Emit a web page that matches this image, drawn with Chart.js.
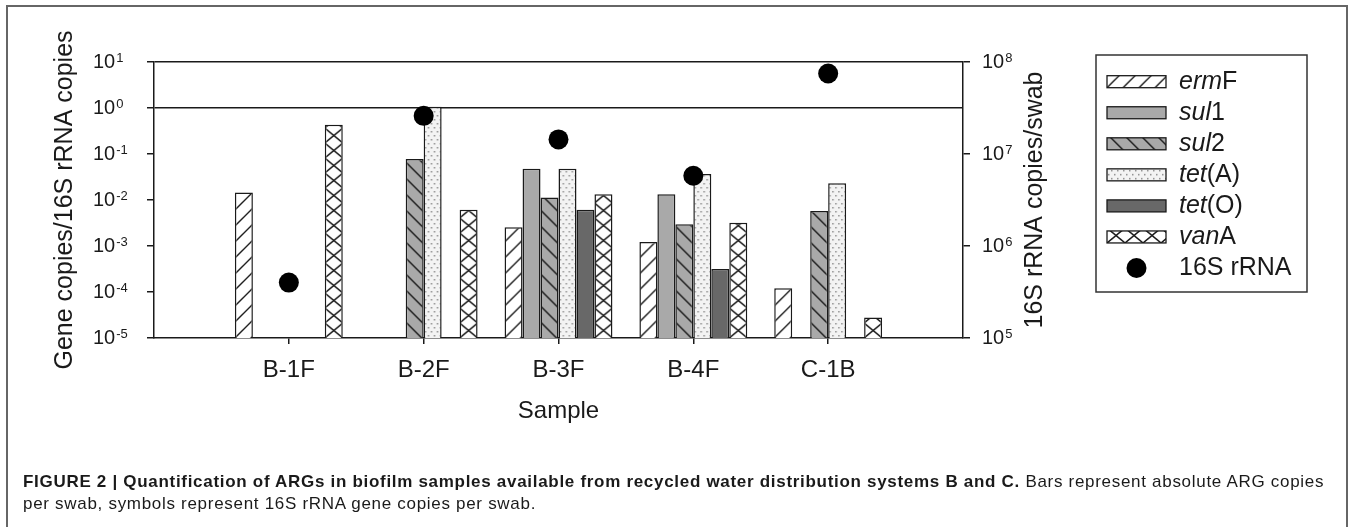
<!DOCTYPE html>
<html><head><meta charset="utf-8">
<script src="https://cdn.jsdelivr.net/npm/chart.js@4.4.1/dist/chart.umd.min.js"></script>
<style>
html,body{margin:0;padding:0;background:#fff;}
#wrap{position:relative;width:1349px;height:527px;overflow:hidden;background:#fff;}
#frame{position:absolute;left:6px;top:5px;width:1338px;height:600px;border:2px solid #666;}
#c{position:absolute;left:0;top:0;}
#cap{position:absolute;left:23px;top:471px;font-family:"Liberation Sans",Arial,sans-serif;font-size:17px;letter-spacing:0.7px;line-height:22px;color:#1a1a1a;white-space:nowrap;}
</style></head><body>
<div id="wrap"><div id="frame"></div><canvas id="c" width="1349" height="527"></canvas>
<div id="cap"><b>FIGURE 2 | Quantification of ARGs in biofilm samples available from recycled water distribution systems B and C.</b> Bars represent absolute ARG copies<br>per swab, symbols represent 16S rRNA gene copies per swab.</div></div>
<script>
// ---------- data ----------
const categories = ['B-1F', 'B-2F', 'B-3F', 'B-4F', 'C-1B'];
const ermF = [0.0145, null, 0.00255, 0.00122, 0.00012];
const sul1 = [null, null, 0.048, 0.0133, null];
const sul2 = [null, 0.078, 0.0114, 0.00296, 0.00577];
const tetA = [null, 1.07, 0.048, 0.0367, 0.023];
const tetO = [null, null, 0.0061, 0.000316, null];
const vanA = [0.43, 0.0061, 0.0133, 0.00321, 0.000028];
const rRNA16S = [4.0e5, 2.6e7, 1.44e7, 5.8e6, 7.5e7];
const leftTickExponents = [-5, -4, -3, -2, -1, 0, 1];
const rightTickExponents = [5, 6, 7, 8];
const seriesNames = [['erm', 'F'], ['sul', '1'], ['sul', '2'], ['tet', '(A)'], ['tet', '(O)'], ['van', 'A'], ['', '16S rRNA']];
const yTitle = 'Gene copies/16S rRNA copies';
const y1Title = '16S rRNA copies/swab';
const xTitle = 'Sample';

// ---------- styling ----------
const FONT = '"Liberation Sans", Arial, Helvetica, sans-serif';
const INK = '#1a1a1a';
function tile(w, h, bg, draw) {
  const c = document.createElement('canvas'); c.width = w; c.height = h;
  const g = c.getContext('2d'); g.fillStyle = bg; g.fillRect(0, 0, w, h);
  g.strokeStyle = INK; g.fillStyle = INK; draw(g, w, h); return c;
}
const tiles = {
  ermF: tile(16, 16, '#ffffff', (g, w, h) => { g.lineWidth = 1.4; g.beginPath();
    g.moveTo(-2, h + 2); g.lineTo(w + 2, -2); g.moveTo(-2, 2); g.lineTo(2, -2); g.moveTo(w - 2, h + 2); g.lineTo(w + 2, h - 2); g.stroke(); }),
  sul2: tile(16, 16, '#a9a9a9', (g, w, h) => { g.lineWidth = 1.4; g.beginPath();
    g.moveTo(-2, -2); g.lineTo(w + 2, h + 2); g.moveTo(w - 2, -2); g.lineTo(w + 2, 2); g.moveTo(-2, h - 2); g.lineTo(2, h + 2); g.stroke(); }),
  tetA: tile(6, 8, '#f3f3f3', (g) => { g.fillStyle = '#8f8f8f'; g.fillRect(1, 1, 1.5, 1.5); g.fillRect(4, 5, 1.5, 1.5); }),
  vanA: tile(18, 15, '#ffffff', (g, w, h) => { g.lineWidth = 1.5; g.beginPath();
    g.moveTo(0, 0); g.lineTo(w, h); g.moveTo(w, 0); g.lineTo(0, h); g.stroke(); })
};
function pat(name, tx, ty) {
  const p = document.getElementById('c').getContext('2d').createPattern(tiles[name], 'repeat');
  if (p.setTransform) p.setTransform(new DOMMatrix().translate(tx, ty));
  return p;
}
function barFill(name, k) {
  return (ctx) => {
    const chart = ctx.chart, xs = chart.scales.x;
    if (!xs || ctx.dataIndex === undefined || !chart.chartArea) return pat(name, 0, 0);
    const step = xs.getPixelForValue(1) - xs.getPixelForValue(0);
    const left = xs.getPixelForValue(ctx.dataIndex) - step * 0.4 + k * step * 0.8 / 6;
    return pat(name, left, chart.chartArea.bottom);
  };
}
const seriesFill = [
  (x, y) => pat('ermF', x, y), () => '#a9a9a9', (x, y) => pat('sul2', x, y),
  (x, y) => pat('tetA', x, y), () => '#686868', (x, y) => pat('vanA', x, y)
];

const labels = ['', ...categories, ''];
const pad = (a) => [null, ...a, null];
const barSeries = [ermF, sul1, sul2, tetA, tetO, vanA];
const barBg = [barFill('ermF', 0), '#a9a9a9', barFill('sul2', 2), barFill('tetA', 3), '#686868', barFill('vanA', 5)];
const datasets = barSeries.map((s, k) => ({
  type: 'bar', label: seriesNames[k].join(''), data: pad(s), yAxisID: 'y',
  backgroundColor: barBg[k], borderColor: INK, borderWidth: 1.5,
  categoryPercentage: 0.8, barPercentage: 1.0, order: 2
}));
datasets.push({
  type: 'line', label: '16S rRNA', data: pad(rRNA16S), yAxisID: 'y1', showLine: false,
  pointRadius: 10, pointHoverRadius: 10, pointBackgroundColor: '#000', pointBorderColor: '#000', pointBorderWidth: 0, order: 0
});

const decor = {
  id: 'decor',
  afterDraw(chart) {
    const g = chart.ctx, ys = chart.scales.y, y1s = chart.scales.y1, ca = chart.chartArea;
    g.save();
    g.fillStyle = INK; g.textBaseline = 'middle'; g.textAlign = 'left';
    const drawPow = (x, y, e) => {
      g.font = '20px ' + FONT; g.fillText('10', x, y);
      const w = g.measureText('10').width;
      g.font = '13px ' + FONT; g.fillText(String(e), x + w + 1, y - 4);
    };
    leftTickExponents.forEach(e => drawPow(93, ys.getPixelForValue(Math.pow(10, e)), e));
    rightTickExponents.forEach(e => drawPow(982, y1s.getPixelForValue(Math.pow(10, e)), e));
    // right axis title
    g.save(); g.translate(1035, (ca.top + ca.bottom) / 2); g.rotate(-Math.PI / 2);
    g.textAlign = 'center'; g.font = '25px ' + FONT; g.fillText(y1Title, 0, 0); g.restore();
    // legend
    const lx = 1096, ly = 55, lw = 211, lh = 237, sx = 1107, sw = 59, sh = 12, tx = 1179, y0 = 81.7, dy = 31.05;
    g.lineWidth = 1.5; g.strokeStyle = '#333'; g.strokeRect(lx, ly, lw, lh);
    seriesNames.forEach((n, i) => {
      const cy = y0 + i * dy;
      if (i < 6) {
        g.fillStyle = seriesFill[i](sx, cy + sh / 2); g.fillRect(sx, cy - sh / 2, sw, sh);
        g.strokeStyle = INK; g.lineWidth = 1.3; g.strokeRect(sx, cy - sh / 2, sw, sh);
      } else {
        g.beginPath(); g.arc(sx + sw / 2, cy, 10, 0, Math.PI * 2); g.fillStyle = '#000'; g.fill();
      }
      g.fillStyle = INK; let x = tx;
      if (n[0]) { g.font = 'italic 25px ' + FONT; g.fillText(n[0], x, cy); x += g.measureText(n[0]).width; }
      g.font = '25px ' + FONT; g.fillText(n[1], x, cy);
    });
    g.restore();
  }
};

new Chart(document.getElementById('c'), {
  type: 'bar',
  data: { labels, datasets },
  plugins: [decor],
  options: {
    responsive: false, animation: false, events: [],
    layout: { padding: { top: 62, bottom: 101, left: 0, right: 0 } },
    plugins: { legend: { display: false }, tooltip: { enabled: false } },
    scales: {
      x: {
        type: 'category', offset: false,
        grid: { offset: false, drawOnChartArea: false, drawTicks: true, tickLength: 6, lineWidth: 1.5,
          color: (c) => (c.index === 0 || c.index === labels.length - 1) ? 'rgba(0,0,0,0)' : INK },
        border: { display: true, color: INK, width: 1.5 },
        ticks: { font: { family: FONT, size: 24 }, color: INK, padding: 12, autoSkip: false, maxRotation: 0 },
        title: { display: true, text: xTitle, font: { family: FONT, size: 24 }, color: INK, padding: { top: 0, bottom: 0 } },
        afterFit: (s) => { s.height = 88; }
      },
      y: {
        type: 'logarithmic', position: 'left', min: 1e-5, max: 10,
        afterBuildTicks: (s) => { s.ticks = leftTickExponents.map(e => ({ value: Math.pow(10, e) })); },
        grid: { drawTicks: true, tickLength: 7, lineWidth: 1.5, tickColor: INK,
          color: (c) => (c.tick && (c.tick.value === 1 || c.tick.value === 10)) ? INK : 'rgba(0,0,0,0)' },
        border: { display: true, color: INK, width: 1.5 },
        ticks: { display: false },
        title: { display: true, text: yTitle, font: { family: FONT, size: 25 }, color: INK, padding: { top: 50, bottom: 0 } },
        afterFit: (s) => { s.width = 154; }
      },
      y1: {
        type: 'logarithmic', position: 'right', min: 1e5, max: 1e8,
        afterBuildTicks: (s) => { s.ticks = rightTickExponents.map(e => ({ value: Math.pow(10, e) })); },
        grid: { drawOnChartArea: false, drawTicks: true, tickLength: 7, lineWidth: 1.5, color: INK },
        border: { display: true, color: INK, width: 1.5 },
        ticks: { display: false },
        title: { display: false },
        afterFit: (s) => { s.width = 386; }
      }
    }
  }
});
</script>
</body></html>
